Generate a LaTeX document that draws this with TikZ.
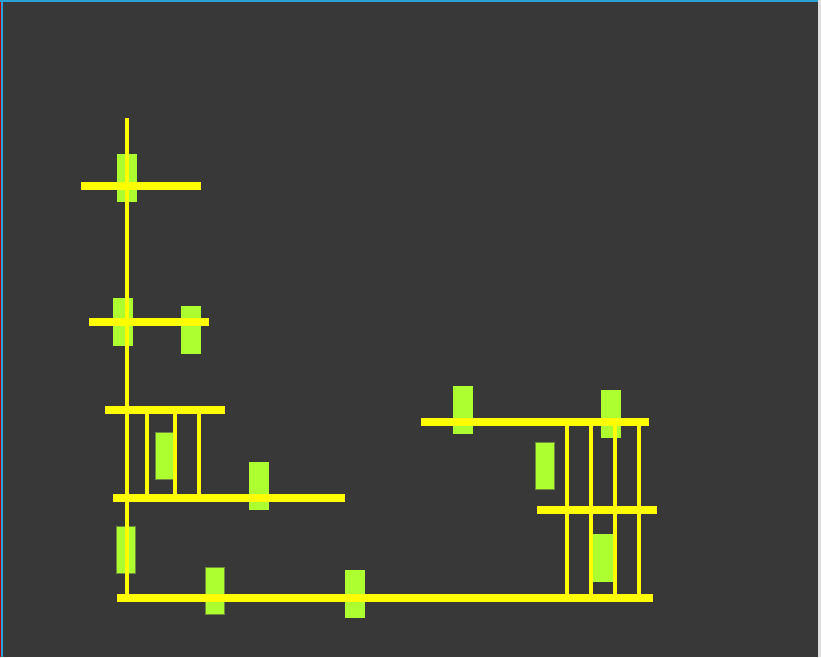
\documentclass[tikz,border=0pt]{standalone}
\definecolor{panelgray}{HTML}{383838}
\definecolor{beamyellow}{HTML}{FFFF00}
\definecolor{loadgreen}{HTML}{ADFF2F}
\definecolor{loadedge}{HTML}{6E8B3D}
\definecolor{framecyan}{HTML}{2AA0D4}
\begin{document}
\begin{tikzpicture}[
        x=1pt, y=-1pt,
        beam/.style={draw=beamyellow, line width=8pt},
        post/.style={draw=beamyellow, line width=4pt},
        block/.style={fill=loadgreen},
        edged/.style={fill=loadgreen, draw=loadedge, line width=0.8pt}
    ]
        \useasboundingbox (0,0) rectangle (821,657);
        \fill[panelgray] (0,0) rectangle (821,657);
        \fill[red!70!black] (0,0) rectangle (1,657);
        \fill[framecyan] (1,0) rectangle (2.5,657);
        \fill[framecyan] (0,0) rectangle (821,1.5);
        \fill[gray!25] (818,0) rectangle (821,657);

        % loads
        \foreach \x/\y in {117/154, 113/298, 181/306, 249/462,
                           345/570, 453/386, 601/390, 593/534} {
            \fill[block] (\x,\y) rectangle +(20,48);
        }
        \foreach \x/\y in {155/432, 116/526, 205/567, 535/442} {
            \filldraw[edged] (\x+0.4,\y+0.4) rectangle +(19.2,47.2);
        }

        % uprights
        \draw[post] (127,118) -- (127,598);
        \foreach \x in {147,175,199} {
            \draw[post] (\x,410) -- (\x,498);
        }
        \foreach \x in {567,591,615,639} {
            \draw[post] (\x,422) -- (\x,598);
        }

        % beams
        \foreach \y/\xa/\xb in {186/81/201, 322/89/209, 410/105/225,
                                498/113/345, 598/117/653,
                                422/421/649, 510/537/657} {
            \draw[beam] (\xa,\y) -- (\xb,\y);
        }
    \end{tikzpicture}
\end{document}
